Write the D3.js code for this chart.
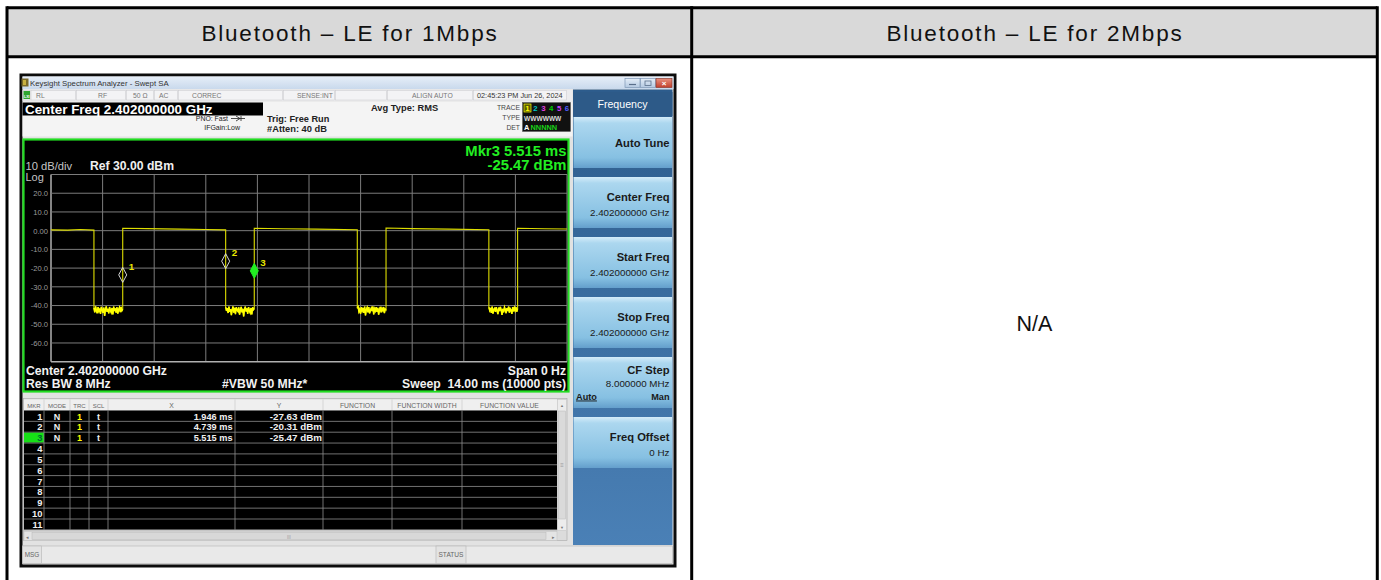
<!DOCTYPE html>
<html>
<head>
<meta charset="utf-8">
<title>Bluetooth LE - spectrum analyzer capture</title>
<script src="https://d3js.org/d3.v7.min.js"></script>
<style>
  body { margin: 0; background: #fff; }
  svg text { font-family: "Liberation Sans", Arial, sans-serif; }
</style>
</head>
<body>
<div id="chart"></div>
<script>
// ---------- data ----------
const headers = ["Bluetooth – LE for 1Mbps", "Bluetooth – LE for 2Mbps"];
const naText = "N/A";

const sweepMs = [0, 14];
const refLevel = 30;      // dBm, top of the grid
const dbPerDiv = 10;
const yLabelValues = [20, 10, 0, -10, -20, -30, -40, -50, -60];
const yLabels = ["20.0", "10.0", "0.00", "-10.0", "-20.0", "-30.0", "-40.0", "-50.0", "-60.0"];

// carrier-off gaps (ms)
const gapStart = [1.165, 4.739, 8.31, 11.88];
const gapEnd   = [1.946, 5.515, 9.09, 12.66];

// carrier-on segments [ms, dBm]
const onSegments = [
  [[0, 0.4], [0.45, 0.3], [0.8, 0.6], [1.165, 0.3]],
  [[1.946, 1.3], [2.6, 1.1], [3.5, 0.8], [4.2, 0.6], [4.739, 0.4]],
  [[5.515, 1.3], [6.3, 1.0], [7.2, 0.8], [8.31, 0.5]],
  [[9.09, 1.4], [9.8, 1.1], [10.8, 0.8], [11.88, 0.5]],
  [[12.66, 1.3], [13.4, 1.0], [14, 0.9]]
];

// noise floor readings inside each gap (dBm)
const gapNoise = [
  [-41.2,-43.6,-40.4,-42.8,-44.1,-40.9,-43.0,-41.6,-44.5,-40.7,-42.3,-43.9,-41.1,-45.6,-42.0,-40.5,-43.4,-41.8,-44.2,-40.8,-42.6,-43.7,-41.3,-44.8,-40.6,-42.9,-41.5,-43.8,-40.9,-44.3,-42.1,-41.0,-43.5,-40.7,-42.7,-41.9],
  [-40.8,-42.9,-41.4,-44.0,-40.6,-43.3,-41.9,-45.1,-42.2,-40.5,-43.8,-41.2,-44.6,-40.9,-42.5,-43.1,-41.0,-44.9,-42.4,-40.7,-43.6,-41.7,-45.8,-42.0,-40.6,-43.2,-41.5,-44.4,-40.8,-42.8,-43.9,-41.3,-44.7,-40.9,-42.2,-41.6],
  [-41.5,-40.7,-43.2,-42.0,-44.4,-40.9,-42.7,-41.3,-43.9,-40.6,-45.3,-42.1,-41.0,-43.6,-40.8,-44.2,-42.5,-41.4,-43.0,-40.5,-44.7,-41.8,-42.9,-40.9,-43.4,-41.2,-44.9,-42.3,-40.7,-43.7,-41.6,-42.6,-40.8,-44.0,-41.9,-42.4],
  [-40.9,-42.6,-41.3,-43.9,-40.6,-44.3,-42.0,-41.5,-43.4,-40.8,-42.8,-44.6,-41.1,-43.0,-40.7,-42.3,-45.0,-41.8,-43.6,-40.9,-42.1,-44.1,-41.4,-42.9,-40.6,-43.8,-41.7,-42.4,-44.5,-40.8,-43.1,-41.2,-42.7,-40.9,-43.3,-41.6]
];

const markerIds  = [1, 2, 3];
const markerMs   = [1.946, 4.739, 5.515];
const markerDbm  = [-27.63, -20.31, -25.47];
const activeMarker = 3;
const markerRowCount = 11;

const statusCells = ["RL", "RF", "50 Ω", "AC", "CORREC", "SENSE:INT", "ALIGN AUTO", "02:45:23 PM Jun 26, 2024"];
const softKeys = ["Auto Tune", "Center Freq", "Start Freq", "Stop Freq", "CF Step", "Freq Offset"];
const softKeyValues = ["", "2.402000000 GHz", "2.402000000 GHz", "2.402000000 GHz", "8.000000 MHz", "0 Hz"];
const tableCols = ["MKR", "MODE", "TRC", "SCL", "X", "Y", "FUNCTION", "FUNCTION WIDTH", "FUNCTION VALUE"];

// ---------- page ----------
const W = 1381, H = 580;
const svg = d3.select("#chart").append("svg").attr("width", W).attr("height", H);
const defs = svg.append("defs");

function grad(id, stops, vertical = true) {
  const g = defs.append("linearGradient").attr("id", id)
    .attr("x1", 0).attr("y1", 0).attr("x2", vertical ? 0 : 1).attr("y2", vertical ? 1 : 0);
  stops.forEach(s => g.append("stop").attr("offset", s[0]).attr("stop-color", s[1]));
}
grad("titleGrad", [[0, "#e6eef8"], [1, "#c9d9ec"]]);
grad("keyGrad", [[0, "#d4ecf9"], [0.12, "#acd7ef"], [0.8, "#86c0e2"], [1, "#649fcc"]]);
grad("panelGrad", [[0, "#2d5c8c"], [1, "#4a80b6"]]);
grad("closeGrad", [[0, "#e8907e"], [1, "#c2402c"]]);
grad("winBtnGrad", [[0, "#e4edf7"], [1, "#b4c9e1"]]);

function rect(g, x, y, w, h, fill, stroke, sw) {
  return g.append("rect").attr("x", x).attr("y", y).attr("width", w).attr("height", h)
    .attr("fill", fill).attr("stroke", stroke || "none").attr("stroke-width", sw || 1);
}
function label(g, x, y, s, size, fill, anchor, weight) {
  return g.append("text").attr("x", x).attr("y", y).text(s)
    .attr("font-size", size).attr("fill", fill)
    .attr("text-anchor", anchor || "start").attr("font-weight", weight || "normal");
}

// outer document table
const table = svg.append("g");
rect(table, 7, 7.7, 1370.3, 49, "#d9d9d9");
const colCenters = [350, 1035];
headers.forEach((h, i) => label(table, colCenters[i], 40.5, h, 22.5, "#111", "middle")
  .attr("letter-spacing", 1.8));
label(table, colCenters[1] - 0.5, 331, naText, 21.5, "#111", "middle");
[[7, 7.7, 1377.3, 7.7], [7, 56.7, 1377.3, 56.7], [7, 6.2, 7, H], [691.7, 6.2, 691.7, H], [1377.3, 6.2, 1377.3, H]]
  .forEach(l => table.append("line").attr("x1", l[0]).attr("y1", l[1]).attr("x2", l[2]).attr("y2", l[3])
    .attr("stroke", "#000").attr("stroke-width", 3));

// ---------- analyzer screenshot ----------
const scr = svg.append("g");
rect(scr, 21, 75, 654, 491, "#e2e2e2", "#0c0c0c", 3);

// title bar
rect(scr, 22.5, 76.5, 651, 12.5, "url(#titleGrad)");
rect(scr, 21.5, 78.5, 7, 8, "#7a6a2a");
rect(scr, 23, 80, 3, 5, "#c8b040");
label(scr, 30, 86, "Keysight Spectrum Analyzer - Swept SA", 7.8, "#333");
rect(scr, 625, 78.5, 15, 9, "url(#winBtnGrad)", "#7f97b5", 0.7);
rect(scr, 640.5, 78.5, 15, 9, "url(#winBtnGrad)", "#7f97b5", 0.7);
rect(scr, 656, 78.5, 16, 9, "url(#closeGrad)", "#8a3b30", 0.7);
scr.append("line").attr("x1", 629).attr("y1", 84.5).attr("x2", 636).attr("y2", 84.5).attr("stroke", "#5a6f8a").attr("stroke-width", 1.2);
rect(scr, 645, 81, 6, 4.5, "none", "#5a6f8a", 0.8);
label(scr, 664, 86, "×", 8, "#fff", "middle", "bold");

// status row
rect(scr, 22.5, 89.5, 550, 11.5, "#ececee");
const statusX = [22.5, 30.5, 76, 126, 154, 178, 283, 335, 387, 473, 567];
for (let i = 0; i < statusX.length - 1; i++) {
  rect(scr, statusX[i] + 0.5, 90.5, statusX[i + 1] - statusX[i] - 1, 9.5, "#f3f3f5", "#c8c8cc", 0.5);
}
rect(scr, 23.5, 91, 6.5, 8, "#2fa52f");
label(scr, 26.8, 97.8, "LXI", 3.6, "#fff", "middle", "bold");
const statusTextX = [36, 98, 133, 159, 192, 297, 412, 477];
statusCells.forEach((s, i) => label(scr, statusTextX[i], 98, s, i === 7 ? 7.3 : 6.8, i === 7 ? "#333" : "#777"));

// settings row
rect(scr, 22.5, 101.5, 550, 35, "#f4f4f4");
rect(scr, 22.5, 102.5, 240.5, 13, "#000");
label(scr, 25, 113.5, "Center Freq 2.402000000 GHz", 13.4, "#fff", "start", "bold");
label(scr, 228, 121, "PNO: Fast", 6.9, "#222", "end");
scr.append("path").attr("d", "M231,118.5 L245,118.5 M236,116 L240,118.5 L236,121 M241,116 L241,121")
  .attr("stroke", "#222").attr("stroke-width", 0.8).attr("fill", "none");
label(scr, 240, 129.5, "IFGain:Low", 7, "#222", "end");
label(scr, 267, 121.5, "Trig: Free Run", 9.2, "#222", "start", "bold");
label(scr, 267, 131.5, "#Atten: 40 dB", 9.3, "#222", "start", "bold");
label(scr, 371, 110.5, "Avg Type: RMS", 9.3, "#222", "start", "bold");
label(scr, 520, 110, "TRACE", 6.8, "#444", "end");
label(scr, 520, 120, "TYPE", 6.8, "#444", "end");
label(scr, 520, 129.5, "DET", 6.8, "#444", "end");
rect(scr, 522.5, 102.5, 48, 29, "#111", "#555", 0.5);
const traceColors = ["#ffff00", "#00c8c8", "#e040e0", "#00d000", "#d040ff", "#5060ff"];
rect(scr, 524, 104, 7, 8, "#5a5a00", "#ffff00", 0.7);
traceColors.forEach((c, i) => label(scr, 527.5 + i * 7.9, 111, String(i + 1), 7.8, c, "middle", "bold"));
label(scr, 524, 120.5, "WWWWWW", 6.6, "#ddd", "start", "bold");
label(scr, 524, 130, "A", 7.4, "#fff", "start", "bold");
label(scr, 530.5, 130, "NNNNN", 7.4, "#19d019", "start", "bold");

// graph window
const gx0 = 51, gx1 = 567, gy0 = 174.5, gy1 = 361.7;
rect(scr, 23.5, 139.5, 545, 252, "#000", "#22dd22", 2.2);

const xS = d3.scaleLinear().domain(sweepMs).range([gx0, gx1]);
const yS = d3.scaleLinear().domain([refLevel - 10 * dbPerDiv, refLevel]).range([gy1, gy0]);

const grid = scr.append("g");
d3.range(0, 11).forEach(i => {
  const t = sweepMs[0] + i * (sweepMs[1] - sweepMs[0]) / 10;
  grid.append("line").attr("x1", xS(t)).attr("x2", xS(t)).attr("y1", gy0).attr("y2", gy1)
    .attr("stroke", i === 0 ? "#b0b0b0" : "#7c7c7c").attr("stroke-width", i === 0 ? 1.5 : 1);
});
d3.range(0, 11).forEach(i => {
  const v = refLevel - i * dbPerDiv;
  grid.append("line").attr("x1", gx0).attr("x2", gx1).attr("y1", yS(v)).attr("y2", yS(v))
    .attr("stroke", i === 10 ? "#b0b0b0" : "#7c7c7c").attr("stroke-width", i === 10 ? 1.5 : 1);
});

const yAxis = d3.axisLeft(yS).tickValues(yLabelValues).tickFormat((d, i) => yLabels[i]).tickSize(0).tickPadding(3);
const yAx = scr.append("g").attr("transform", `translate(${gx0},0)`).call(yAxis);
yAx.select(".domain").remove();
yAx.selectAll("text").attr("font-size", 7.6).attr("fill", "#9c9c9c")
  .attr("font-family", "Liberation Sans, Arial, sans-serif");

label(scr, 25.5, 170, "10 dB/div", 11.2, "#c4c4c4");
label(scr, 90, 170, "Ref 30.00 dBm", 12.2, "#f0f0f0", "start", "bold");
label(scr, 25.5, 181, "Log", 11, "#c4c4c4");

const mIdx = markerIds.indexOf(activeMarker);
label(scr, 566.5, 155.5, `Mkr${activeMarker} ${markerMs[mIdx].toFixed(3)} ms`, 14.8, "#22ee22", "end", "bold");
label(scr, 566.5, 169.5, `${markerDbm[mIdx].toFixed(2)} dBm`, 14.8, "#22ee22", "end", "bold");

// trace
const tracePts = [];
onSegments.forEach((seg, i) => {
  seg.forEach(p => tracePts.push(p));
  if (i < gapNoise.length) {
    const n = gapNoise[i].length;
    gapNoise[i].forEach((v, k) => tracePts.push([gapStart[i] + (gapEnd[i] - gapStart[i]) * k / (n - 1), v]));
  }
});
const line = d3.line().x(d => xS(d[0])).y(d => yS(d[1]));
scr.append("path").datum(tracePts).attr("d", line)
  .attr("fill", "none").attr("stroke", "#dede00").attr("stroke-width", 1.1);
// brighter noise floor band
gapNoise.forEach((g, i) => {
  const pts = g.map((v, k) => [gapStart[i] + (gapEnd[i] - gapStart[i]) * k / (g.length - 1), v]);
  scr.append("path").datum(pts).attr("d", line)
    .attr("fill", "none").attr("stroke", "#ffff00").attr("stroke-width", 1.5);
});

// markers
markerIds.forEach((id, i) => {
  const px = xS(markerMs[i]), py = yS(markerDbm[i]);
  const active = id === activeMarker;
  scr.append("path")
    .attr("d", `M${px},${py} L${px - 4},${py - 7.5} L${px},${py - 15} L${px + 4},${py - 7.5} Z`)
    .attr("fill", active ? "#22ee22" : "none")
    .attr("stroke", active ? "#22ee22" : "#d8d8d8").attr("stroke-width", 1);
  label(scr, px + 6, py - 12.5, String(id), 9.8, "#e8e800", "start", "bold");
});

label(scr, 26, 374.5, "Center 2.402000000 GHz", 12.2, "#f2f2f2", "start", "bold");
label(scr, 26, 388, "Res BW 8 MHz", 12.2, "#f2f2f2", "start", "bold");
label(scr, 222, 388, "#VBW 50 MHz*", 12.2, "#f2f2f2", "start", "bold");
label(scr, 566, 374.5, "Span 0 Hz", 12.2, "#f2f2f2", "end", "bold");
label(scr, 566, 388, "Sweep  14.00 ms (10000 pts)", 12.2, "#f2f2f2", "end", "bold").attr("xml:space", "preserve");

// marker table
const colX = [24, 44, 70, 89, 108, 235, 323, 392, 462, 557];
const rowTop = 410.5, rowH = 10.85;
rect(scr, 23.5, 398.5, 543.5, 142, "#dcdcdc", "#a8a8a8", 0.6);
rect(scr, 24, 399.5, 533, 10.5, "#efefef");
tableCols.forEach((c, i) => {
  const cx = (colX[i] + colX[i + 1]) / 2;
  label(scr, cx, 407.8, c, i < 4 ? 6 : 6.8, "#666", "middle");
  if (i > 0) scr.append("line").attr("x1", colX[i]).attr("x2", colX[i]).attr("y1", 399.5).attr("y2", 410)
    .attr("stroke", "#c4c4c4").attr("stroke-width", 0.6);
});
rect(scr, 24, rowTop, 533, rowH * markerRowCount, "#000");
for (let r = 0; r < markerRowCount; r++) {
  const y = rowTop + r * rowH;
  const id = r + 1;
  const mi = markerIds.indexOf(id);
  if (id === activeMarker) rect(scr, 24, y + 0.5, 20, rowH - 1, "#16e016");
  scr.append("line").attr("x1", 24).attr("x2", 557).attr("y1", y + rowH).attr("y2", y + rowH)
    .attr("stroke", "#8e8e8e").attr("stroke-width", 0.8);
  label(scr, 42.5, y + 9, String(id), 9.4, id === activeMarker ? "#063" : "#f0f0f0", "end", "bold");
  if (mi >= 0) {
    label(scr, 57, y + 9, "N", 9, "#f0f0f0", "middle", "bold");
    label(scr, 79.5, y + 9, "1", 9, "#ffff00", "middle", "bold");
    label(scr, 98.5, y + 9, "t", 9, "#f0f0f0", "middle", "bold");
    label(scr, 232.5, y + 9, `${markerMs[mi].toFixed(3)} ms`, 9.2, "#f0f0f0", "end", "bold");
    label(scr, 322, y + 9, `${markerDbm[mi].toFixed(2)} dBm`, 9.8, "#f0f0f0", "end", "bold");
  }
}
colX.slice(1, -1).forEach(x => scr.append("line").attr("x1", x).attr("x2", x)
  .attr("y1", rowTop).attr("y2", rowTop + rowH * markerRowCount).attr("stroke", "#8e8e8e").attr("stroke-width", 0.8));

// scroll bars
rect(scr, 557.5, 399.5, 9, 131, "#ececec", "#c0c0c0", 0.5);
rect(scr, 558.5, 411, 7, 108, "#dadada", "#b8b8b8", 0.5);
label(scr, 562, 407, "▲", 4, "#777", "middle");
label(scr, 562, 529, "▼", 4, "#777", "middle");
label(scr, 562, 467, "≡", 6, "#999", "middle");
rect(scr, 24, 531.5, 533, 9, "#e4e4e4", "#c0c0c0", 0.5);
rect(scr, 32, 532.5, 514, 7, "#d8d8d8", "#b8b8b8", 0.5);
label(scr, 27, 538.5, "◂", 5, "#777", "middle");
label(scr, 553, 538.5, "▸", 5, "#777", "middle");
label(scr, 289, 538.5, "III", 4.5, "#999", "middle");

// message / status bar
rect(scr, 22.5, 546, 650, 17.5, "#e9e9e9", "#b4b4b4", 0.6);
rect(scr, 22.5, 546, 19, 17.5, "#e3e3e3", "#b4b4b4", 0.6);
label(scr, 32, 557, "MSG", 6.4, "#666", "middle");
rect(scr, 436, 546, 30, 17.5, "#e3e3e3", "#b4b4b4", 0.6);
label(scr, 451, 557, "STATUS", 6.6, "#666", "middle");

// soft key panel
const panel = scr.append("g");
rect(panel, 573, 89.5, 99.5, 455.5, "url(#panelGrad)");
rect(panel, 573, 92, 99.5, 24, "#2d5a88");
label(panel, 622.5, 108, "Frequency", 10.6, "#fff", "middle");
softKeys.forEach((k, i) => {
  const top = 117 + i * 60;
  rect(panel, 573.5, top, 98.5, 51, "url(#keyGrad)");
  if (i === 0) {
    label(panel, 669.5, 147, k, 11.2, "#1a1a1a", "end", "bold");
  } else if (k === "CF Step") {
    label(panel, 669.5, top + 17, k, 11.2, "#1a1a1a", "end", "bold");
    label(panel, 669.5, top + 30, softKeyValues[i], 9.8, "#1a1a1a", "end");
    label(panel, 576, top + 42.5, "Auto", 9.2, "#1a1a1a", "start", "bold").attr("text-decoration", "underline");
    label(panel, 669.5, top + 42.5, "Man", 9.2, "#1a1a1a", "end", "bold");
  } else {
    label(panel, 669.5, top + 24, k, 11.2, "#1a1a1a", "end", "bold");
    label(panel, 669.5, top + 38.5, softKeyValues[i], 9.8, "#1a1a1a", "end");
  }
});
</script>
</body>
</html>
